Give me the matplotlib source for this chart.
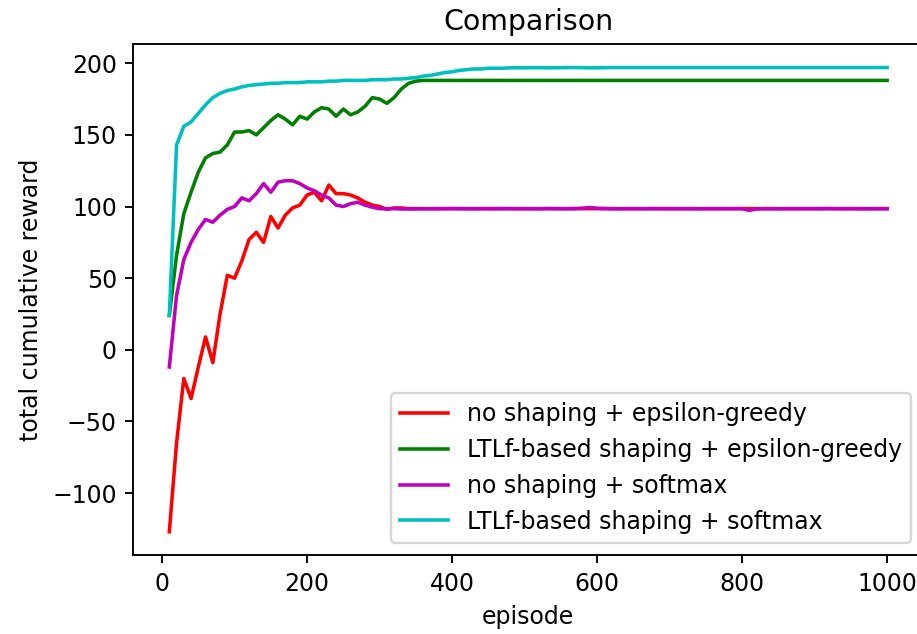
import numpy as np
import matplotlib
matplotlib.use('Agg')
import matplotlib.pyplot as plt

# episodes (one point every 10 episodes)
episodes = np.arange(10, 1010, 10)

# no shaping + epsilon-greedy
red_vals = [
    -127, -65, -20, -34, -12, 9, -9, 25, 52, 50,
    62, 77, 82, 75, 93, 85, 94, 99, 101, 108,
    110, 104, 115, 109, 109, 108, 106, 103, 101, 100,
    98, 99, 99, 98.5, 98.5, 98.5, 98.4, 98.5, 98.5, 98.6,
    98.5, 98.5, 98.4, 98.5, 98.5, 98.5, 98.6, 98.5, 98.5, 98.5,
    98.5, 98.4, 98.5, 98.5, 98.5, 98.5, 98.6, 98.5, 98.5, 98.5,
    98.5, 98.5, 98.4, 98.5, 98.5, 98.5, 98.5, 98.6, 98.5, 98.5,
    98.5, 98.5, 98.5, 98.4, 98.5, 98.5, 98.5, 98.5, 98.5, 98.6,
    98.5, 98.5, 98.5, 98.5, 98.4, 98.5, 98.5, 98.5, 98.5, 98.5,
    98.5, 98.6, 98.5, 98.5, 98.5, 98.5, 98.4, 98.5, 98.5, 98.5,
]

# LTLf-based shaping + epsilon-greedy
green_vals = [
    24, 66, 95, 110, 124, 134, 137, 138, 143, 152,
    152, 153, 150, 155, 160, 164, 161, 157, 163, 161,
    166, 169, 168, 163, 168, 164, 166, 170, 176, 175,
    172, 176, 182, 186, 187.5, 188, 188, 188, 188, 188,
    188, 188, 188, 188, 188, 188, 188, 188, 188, 188,
    188, 188, 188, 188, 188, 188, 188, 188, 188, 188,
    188, 188, 188, 188, 188, 188, 188, 188, 188, 188,
    188, 188, 188, 188, 188, 188, 188, 188, 188, 188,
    188, 188, 188, 188, 188, 188, 188, 188, 188, 188,
    188, 188, 188, 188, 188, 188, 188, 188, 188, 188,
]

# no shaping + softmax
magenta_vals = [
    -12, 38, 63, 75, 84, 91, 89, 94, 98, 100,
    106, 104, 109, 116, 110, 117, 118, 118, 116, 113,
    111, 108, 106, 101, 100, 102, 103, 101, 99.5, 98.5,
    98.5, 98.5, 98.3, 98.3, 98.4, 98.5, 98.5, 98.5, 98.5, 98.5,
    98.5, 98.5, 98.5, 98.6, 98.5, 98.5, 98.5, 98.5, 98.5, 98.5,
    98.5, 98.5, 98.6, 98.6, 98.5, 98.5, 98.5, 98.8, 99.3, 98.8,
    98.6, 98.5, 98.5, 98.5, 98.5, 98.5, 98.5, 98.5, 98.5, 98.5,
    98.5, 98.5, 98.5, 98.5, 98.5, 98.5, 98.5, 98.5, 98.5, 98.5,
    97.3, 98.3, 98.5, 98.5, 98.5, 98.5, 98.5, 98.5, 98.5, 98.5,
    98.5, 98.5, 98.5, 98.5, 98.5, 98.5, 98.5, 98.5, 98.5, 98.5,
]

# LTLf-based shaping + softmax
cyan_vals = [
    24, 143, 156, 159, 165, 171, 176, 179, 181, 182,
    183.5, 184.5, 185, 185.5, 186, 186, 186.5, 186.5, 186.5, 187,
    187, 187, 187.5, 187.5, 188, 188, 188, 188, 188.5, 188.5,
    188.5, 189, 189, 189.5, 190, 191, 191.5, 192.5, 193.5, 194,
    195, 195.5, 196, 196, 196.5, 196.5, 196.5, 196.8, 196.8, 196.8,
    196.9, 196.9, 196.8, 196.8, 196.9, 197, 197, 196.9, 196.8, 196.8,
    196.9, 197, 197, 197, 197, 197, 197, 197, 197, 197,
    197, 197, 197, 197, 197, 197, 197, 197, 197, 197,
    197, 197, 197, 197, 197, 197, 197, 197, 197, 197,
    197, 197, 197, 197, 197, 197, 197, 197, 197, 197,
]

labels = [
    'no shaping + epsilon-greedy',
    'LTLf-based shaping + epsilon-greedy',
    'no shaping + softmax',
    'LTLf-based shaping + softmax',
]

fig = plt.figure(figsize=(917 / 170, 634 / 170), dpi=170)
ax = fig.add_axes([0.1455, 0.1246, 0.861, 0.8055])

ax.plot(episodes, red_vals, 'r', label=labels[0])
ax.plot(episodes, green_vals, 'g', label=labels[1])
ax.plot(episodes, magenta_vals, 'm', label=labels[2])
ax.plot(episodes, cyan_vals, 'c', label=labels[3])

ax.set_title('Comparison')
ax.set_xlabel('episode')
ax.set_ylabel('total cumulative reward')
ax.legend(loc='lower right')

fig.savefig('out.png', dpi=170)
